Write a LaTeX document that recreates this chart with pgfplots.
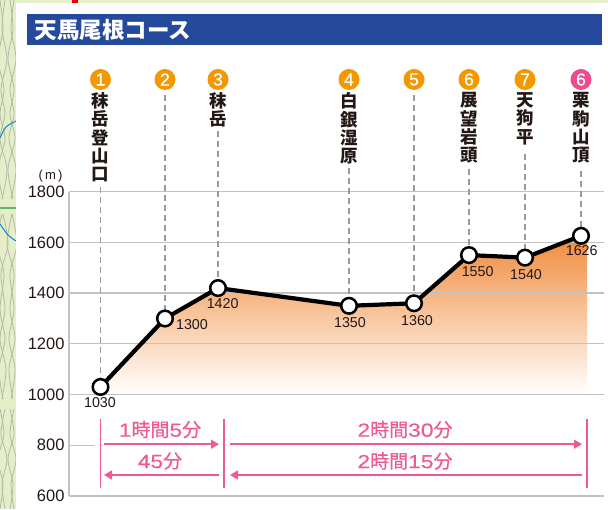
\documentclass[border=0pt]{standalone}
\usepackage{pgfplots}
\pgfplotsset{compat=1.18}
\usepackage{fontspec}
\setmainfont{Liberation Sans}
\newfontfamily\cjk{Noto Sans CJK JP}
\newfontfamily\cjkm[FakeBold=0.35]{Noto Sans CJK JP}
\newfontfamily\dig[FakeStretch=1.2,FakeBold=0.35]{Liberation Sans}
\newfontfamily\circd[FakeBold=0.5]{Liberation Sans}
\usetikzlibrary{arrows.meta}
\definecolor{gridc}{HTML}{C2C2C2}
\definecolor{bar}{HTML}{264A9B}
\definecolor{orng}{HTML}{F39800}
\definecolor{pnk}{HTML}{EA4C8F}
\definecolor{arrowc}{HTML}{EE5A94}
\definecolor{fillc}{HTML}{F08A3A}
\definecolor{txt}{HTML}{231815}
\definecolor{mapg}{HTML}{E4EEC8}
\definecolor{dashc}{HTML}{9A9A9A}
\definecolor{cont}{HTML}{B4B8A8}
\newcommand{\D}[1]{{\dig #1}}
\begin{document}
\begin{tikzpicture}[x=1pt,y=1pt]
\path[use as bounding box] (0,0) rectangle (608,509);
\fill[mapg] (0,0) rectangle (608,509);
% map strip decoration
\begin{scope}
\clip (0,0) rectangle (16,509);
\foreach \o/\k in {0/1,5/-1,10/1,14/-1}{
  \draw[cont,line width=0.8pt] plot[smooth] coordinates {(\o,509) (\o+3*\k,480) (\o-2*\k,450) (\o+4*\k,420) (\o,395) (\o+5*\k,370) (\o-2*\k,340) (\o+3*\k,310)};
  \draw[cont,line width=0.8pt] plot[smooth] coordinates {(\o+2*\k,295) (\o-3*\k,265) (\o+4*\k,235) (\o,200) (\o+5*\k,170) (\o-\k,140) (\o+3*\k,110)};
  \draw[cont,line width=0.8pt] plot[smooth] coordinates {(\o,100) (\o+4*\k,75) (\o-2*\k,50) (\o+3*\k,25) (\o,0)};
}
\draw[cyan!70!blue,line width=1pt] plot[smooth] coordinates {(0,371) (6,382) (16,388)};
\draw[cyan!70!blue,line width=1pt] plot[smooth] coordinates {(0,285) (8,274) (16,268)};
\draw[green!50!black!60,line width=1.2pt] (0,301) -- (16,301);
\end{scope}
\fill[white] (16,0) rectangle (608,505.5);
\fill[red!90!black] (72,505.5) rectangle (78,509);
\fill[bar] (27,464) rectangle (602,495);
\node[anchor=west,text=white,font=\cjk\bfseries\fontsize{22.5}{22.5}\selectfont,inner sep=0pt] at (34.5,479.5) {天馬尾根コース};
\begin{axis}[
  at={(69pt,13pt)}, anchor=south west, scale only axis,
  width=535pt, height=304.3pt,
  xmin=69, xmax=604, ymin=600, ymax=1800,
  axis lines=left, axis line style={draw=gridc,line width=1.3pt,-},
  xtick=\empty,
  ytick={600,800,1000,1200,1400,1600,1800},
  major tick length=0pt,
  yticklabel style={font=\fontsize{16.5}{17}\selectfont,text=txt,xshift=-1pt},
  /pgf/number format/assume math mode=true,
  /pgf/number format/set thousands separator={},
  clip=false,
]
% orange area
\addplot[draw=none,top color=fillc,bottom color=white,forget plot] coordinates {
 (100.5,1000) (100.5,1030) (165,1300) (218,1420) (349,1350) (414,1360) (469,1550) (525,1540) (581,1626) (587,1635) (587,1000)} -- cycle;
% grid
\foreach \v in {1000,1200,1400,1600,1800}{
  \edef\tmp{\noexpand\draw[gridc,line width=1.3pt] (axis cs:69,\v) -- (axis cs:604,\v);}\tmp
}
\draw[gridc,line width=1.3pt] (axis cs:69,800) -- (axis cs:95,800);
% leaders
\pgfplotsset{ld/.style={dashc,line width=1.6pt,dash pattern=on 6pt off 4pt,forget plot}}
\addplot[ld] coordinates {(100.5,1818) (100.5,1030)};
\addplot[ld] coordinates {(165,2182) (165,1300)};
\addplot[ld] coordinates {(218,2040) (218,1420)};
\addplot[ld] coordinates {(349,1893) (349,1350)};
\addplot[ld] coordinates {(414,2182) (414,1360)};
\addplot[ld] coordinates {(469,1890) (469,1550)};
\addplot[ld] coordinates {(525,1949) (525,1540)};
\addplot[ld] coordinates {(581,1882) (581,1626)};
% profile
\addplot[black,line width=4.2pt,mark=*,mark size=7.8pt,mark options={fill=white,draw=black,line width=2.5pt}] coordinates {
 (100.5,1030) (165,1300) (218,1420) (349,1350) (414,1360) (469,1550) (525,1540) (581,1626)};
\end{axis}
\node[font=\fontsize{13}{13}\selectfont,text=txt] at (50.5,333) {(\,m\,)};
% numbered circles
\foreach \x/\n/\c in {100.5/1/orng,165/2/orng,218/3/orng,349/4/orng,414/5/orng,469/6/orng,525/7/orng,581/6/pnk}{
  \fill[\c] (\x,429.5) circle (10.5);
  \node[text=white,font=\circd\fontsize{17.5}{18}\selectfont] at (\x,429.5) {\n};
}
% names
\tikzset{nm/.style={anchor=north,inner sep=0pt,font=\cjk\bfseries\fontsize{17.5}{18.3}\selectfont,text=txt,align=center}}
\node[nm] at (100.5,416.5) {秣\\岳\\登\\山\\口};
\node[nm] at (218,416.5) {秣\\岳};
\node[nm] at (349,416.5) {白\\銀\\湿\\原};
\node[nm] at (469,416.5) {展\\望\\岩\\頭};
\node[nm] at (525,416.5) {天\\狗\\平};
\node[nm] at (581,416.5) {栗\\駒\\山\\頂};
% elevation labels
\tikzset{el/.style={font=\fontsize{14.3}{14}\selectfont,text=txt,inner sep=0pt}}
\node[el] at (100,106) {1030};
\node[el] at (192,184) {1300};
\node[el] at (222.7,205) {1420};
\node[el] at (350,186) {1350};
\node[el] at (417,188) {1360};
\node[el] at (477.7,237) {1550};
\node[el] at (526,234) {1540};
\node[el] at (581.7,258) {1626};
% times
\draw[arrowc,line width=1.3pt] (100.5,90) -- (100.5,21);
\draw[arrowc,line width=1.3pt] (224,90) -- (224,21);
\draw[arrowc,line width=1.3pt] (587,90) -- (587,21);
\tikzset{ar/.style={arrowc,line width=1.5pt}, hd/.style={-{Triangle[length=8pt,width=9pt]}}}
\draw[ar,hd] (104,64.8) -- (219,64.8);
\draw[ar,hd] (230,64.8) -- (582,64.8);
\draw[ar,hd] (219,34) -- (104,34);
\draw[ar,hd] (582,34) -- (230,34);
\tikzset{tm/.style={text=arrowc,font=\cjkm\fontsize{19}{19}\selectfont,inner sep=0pt}}
\node[tm] at (160,79.5) {\D{1}時間\D{5}分};
\node[tm] at (160,48) {\D{45}分};
\node[tm] at (405,79.5) {\D{2}時間\D{30}分};
\node[tm] at (405,48) {\D{2}時間\D{15}分};
\end{tikzpicture}
\end{document}
